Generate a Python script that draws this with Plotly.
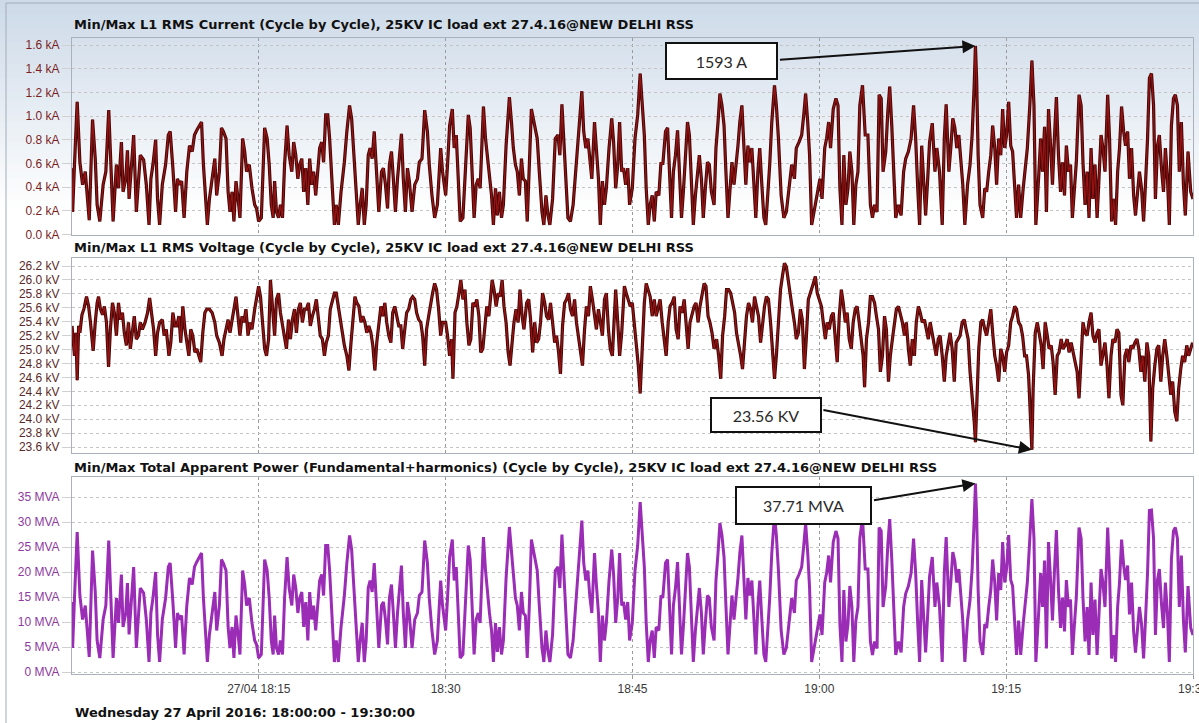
import pandas as pd
import plotly.graph_objects as go

START = pd.Timestamp("2016-04-27 18:00:00")

# Sample instants (seconds after 18:00:00) shared by the current and apparent power records
ip_seconds = [
    0, 3, 12, 25, 38, 51, 64, 73, 83, 99,
    112, 121, 134, 150, 163, 177, 188, 198, 214, 224,
    238, 246, 259, 267, 275, 284, 297, 310, 320, 329,
    345, 358, 371, 380, 390, 403, 412, 422, 435, 451,
    464, 473, 486, 499, 508, 518, 528, 540, 553, 566,
    579, 590, 601, 614, 624, 633, 643, 652, 662, 675,
    688, 697, 710, 720, 729, 742, 752, 761, 771, 780,
    790, 803, 809, 822, 832, 841, 854, 867, 880, 889,
    899, 912, 928, 940, 950, 960, 969, 976, 985, 995,
    1004, 1014, 1024, 1036, 1046, 1059, 1068, 1078, 1088, 1097,
    1107, 1116, 1126, 1136, 1145, 1155, 1164, 1174, 1184, 1193,
    1203, 1212, 1222, 1232, 1241, 1254, 1264, 1273, 1283, 1296,
    1312, 1324, 1337, 1347, 1360, 1369, 1379, 1388, 1398, 1408,
    1417, 1427, 1436, 1446, 1456, 1465, 1478, 1491, 1500, 1510,
    1520, 1529, 1539, 1548, 1558, 1568, 1577, 1587, 1596, 1606,
    1616, 1625, 1638, 1651, 1664, 1673, 1686, 1699, 1712, 1721,
    1734, 1747, 1760, 1776, 1785,
    1800, 1809, 1819, 1832, 1841, 1851, 1861, 1870, 1883, 1896,
    1909, 1918, 1928, 1937, 1947, 1957, 1966, 1982, 1992, 2001,
    2011, 2021, 2030, 2040, 2049, 2059, 2069, 2078, 2091, 2107,
    2117, 2126, 2136, 2145, 2155, 2165, 2174, 2184, 2193, 2203,
    2213, 2222, 2232, 2241, 2251, 2264, 2273, 2283, 2293, 2302,
    2315, 2328, 2341, 2350, 2360, 2369, 2379, 2389, 2401, 2414,
    2427, 2443, 2456, 2465, 2475, 2485, 2494, 2504, 2517, 2526,
    2536, 2545, 2555, 2565, 2574, 2587, 2600, 2609, 2619, 2629,
    2638, 2648, 2657, 2667, 2677, 2686, 2699, 2712, 2725, 2737,
    2747, 2757, 2766, 2776, 2785, 2795, 2805, 2814, 2827, 2837,
    2846, 2859, 2869, 2878, 2888, 2897, 2907, 2917, 2926, 2936,
    2945, 2955, 2965, 2974, 2984, 2993, 3003, 3013, 3022, 3032,
    3041, 3051, 3061, 3070, 3080, 3093, 3102, 3112, 3121, 3131,
    3141, 3150, 3160, 3169, 3179, 3189, 3198, 3208, 3217, 3227,
    3237, 3246, 3256, 3265, 3275, 3285, 3294, 3304, 3313, 3323,
    3333, 3342, 3352, 3361, 3371, 3384, 3393, 3403, 3416, 3429,
    3441, 3454, 3467, 3480, 3489, 3502, 3515, 3525, 3534, 3544,
    3553, 3563,
    3594, 3603, 3613, 3626, 3635, 3645, 3654, 3667, 3680, 3690,
    3699, 3709, 3718, 3728, 3738, 3747, 3757, 3766, 3776, 3786,
    3795, 3808, 3821, 3834, 3846, 3856, 3866, 3878, 3888, 3898,
    3907, 3920, 3930, 3939, 3949, 3958, 3968, 3981, 3994, 4006,
    4016, 4029, 4042, 4054, 4064, 4074, 4083, 4093, 4102, 4112,
    4122, 4131, 4144, 4157, 4166, 4179, 4192, 4202, 4211, 4224,
    4234, 4243, 4253, 4262, 4272, 4282, 4291, 4301, 4314, 4326,
    4336, 4346, 4352, 4358, 4365, 4374, 4387, 4397, 4406, 4416,
    4426, 4435, 4445, 4454, 4464, 4474, 4483, 4493, 4502, 4512,
    4522, 4531, 4541, 4550, 4560, 4570, 4582, 4592, 4602, 4614,
    4624, 4634, 4643, 4656, 4666, 4675, 4685, 4694, 4704, 4714,
    4723, 4733, 4742, 4752, 4762, 4771, 4781, 4790, 4800, 4810,
    4819, 4829, 4838, 4851, 4861, 4870, 4880, 4890, 4899, 4909,
    4918, 4928, 4938, 4947, 4957, 4966, 4976, 4989, 4998, 5008,
    5018, 5027, 5037, 5046, 5056, 5066, 5075, 5085, 5094, 5104,
    5114, 5123, 5133, 5142, 5152, 5162, 5171, 5181, 5190, 5200,
    5210, 5219, 5229, 5238, 5248, 5258, 5267, 5277, 5286, 5296,
    5306, 5315, 5325, 5334, 5344, 5354, 5363, 5376, 5389, 5400,
]

# L1 RMS current, kA
current_ka = [
    0.56, 0.19, 0.59, 1.12, 0.61, 0.42, 0.53, 0.30, 0.12, 0.97,
    0.64, 0.25, 0.11, 0.42, 0.53, 1.05, 0.59, 0.11, 0.59, 0.39,
    0.78, 0.36, 0.47, 0.71, 0.30, 0.53, 0.84, 0.19, 0.47, 0.67,
    0.63, 0.42, 0.08, 0.47, 0.59, 0.80, 0.30, 0.08, 0.42, 0.59,
    0.84, 0.87, 0.56, 0.19, 0.47, 0.42, 0.45, 0.14, 0.53, 0.75,
    0.70, 0.84, 0.88, 0.92, 0.95, 0.59, 0.30, 0.08, 0.30, 0.47,
    0.64, 0.33, 0.53, 0.90, 0.87, 0.81, 0.36, 0.19, 0.36, 0.11,
    0.45, 0.25, 0.14, 0.81, 0.70, 0.53, 0.59, 0.39, 0.25, 0.22,
    0.11, 0.14, 0.90, 0.81, 0.59, 0.25, 0.14, 0.45, 0.19, 0.14,
    0.25, 0.14, 0.59, 0.92, 0.67, 0.53, 0.78, 0.67, 0.47, 0.59,
    0.64, 0.36, 0.56, 0.25, 0.64, 0.42, 0.53, 0.33, 0.53, 0.73,
    0.78, 0.61, 1.01, 1.01, 0.81, 0.39, 0.08, 0.25, 0.08, 0.36,
    0.61, 0.87, 1.09, 0.98, 0.64, 0.39, 0.08, 0.25, 0.39, 0.08,
    0.25, 0.67, 0.73, 0.64, 0.87, 0.59, 0.19, 0.53, 0.56, 0.42,
    0.22, 0.59, 0.70, 0.47, 0.19, 0.47, 0.64, 0.85, 0.47, 0.19,
    0.56, 0.45, 0.19, 0.42, 0.47, 0.61, 0.64, 1.05, 0.87, 0.59,
    0.33, 0.14, 0.25, 0.73, 0.53,
    0.33, 0.59, 0.92, 1.06, 0.73, 0.84, 0.39, 0.11, 0.14, 0.53,
    1.01, 0.90, 0.47, 0.14, 0.42, 0.47, 0.39, 1.08, 0.81, 0.64,
    0.47, 0.33, 0.08, 0.39, 0.16, 0.36, 0.14, 0.25, 0.75, 1.16,
    0.95, 0.73, 0.59, 0.53, 0.33, 0.64, 0.47, 0.45, 0.11, 0.53,
    1.06, 0.98, 0.90, 0.81, 0.53, 0.19, 0.08, 0.33, 0.16, 0.08,
    0.30, 0.81, 0.84, 0.67, 1.10, 0.73, 0.47, 0.14, 0.11, 0.25,
    0.53, 0.95, 1.21, 0.87, 0.73, 0.81, 0.61, 0.47, 0.95, 0.70,
    0.47, 0.08, 0.45, 0.25, 0.39, 0.73, 0.98, 0.78, 0.39, 0.59,
    0.95, 0.53, 0.56, 0.42, 0.56, 0.25, 0.39, 0.81, 1.01, 1.36,
    1.09, 0.84, 0.39, 0.08, 0.25, 0.33, 0.11, 0.36, 0.33, 0.61,
    0.59, 0.87, 0.90, 0.47, 0.14, 0.53, 0.67, 0.88, 0.47, 0.14,
    0.36, 0.67, 0.95, 0.84, 0.47, 0.08, 0.33, 0.53, 0.67, 0.47,
    0.14, 0.39, 0.61, 0.59, 0.36, 0.25, 0.73, 0.95, 1.19, 1.09,
    0.92, 0.53, 0.14, 0.36, 0.61, 0.42, 0.56, 0.75, 0.95, 1.09,
    0.73, 0.42, 0.75, 0.61, 0.73, 0.42, 0.14, 0.53, 0.73, 0.42,
    0.14, 0.08, 0.33, 0.59, 0.95, 1.26, 1.09, 0.81, 0.33, 0.14,
    0.19, 0.39, 0.59, 0.47, 0.73, 0.78, 0.84, 1.01, 1.19, 0.95,
    0.67, 0.08,
    0.39, 0.47, 0.30, 0.73, 0.81, 0.95, 0.73, 1.06, 1.15, 1.09,
    0.39, 0.08, 0.67, 0.25, 0.39, 0.70, 0.53, 0.08, 0.42, 0.53,
    1.09, 1.26, 0.84, 0.84, 0.25, 0.14, 0.25, 0.19, 1.18, 1.15,
    0.53, 0.70, 1.04, 1.25, 0.92, 0.47, 0.14, 0.25, 0.16, 0.53,
    0.64, 0.70, 0.81, 1.09, 0.81, 0.39, 0.08, 0.75, 0.42, 0.16,
    0.47, 0.78, 0.94, 0.53, 0.73, 0.53, 0.08, 0.81, 1.10, 0.53,
    0.75, 0.98, 0.90, 0.73, 0.84, 0.64, 0.42, 0.08, 0.42, 0.59,
    0.84, 1.26, 1.593, 1.29, 0.67, 0.25, 0.14, 0.39, 0.36, 0.53,
    0.67, 0.92, 0.73, 0.42, 0.81, 0.67, 1.06, 0.73, 0.84, 1.12,
    0.75, 0.70, 0.45, 0.14, 0.42, 0.14, 0.39, 0.59, 0.73, 1.09,
    1.47, 1.09, 0.08, 0.47, 0.81, 0.53, 0.91, 0.19, 1.06, 0.75,
    0.42, 0.84, 1.16, 0.67, 0.36, 0.61, 0.33, 0.75, 0.53, 0.59,
    0.14, 0.39, 0.61, 1.18, 1.09, 0.61, 0.25, 0.53, 0.14, 0.73,
    0.30, 0.59, 0.14, 0.47, 0.84, 0.73, 0.53, 1.18, 0.81, 0.11,
    0.30, 0.08, 0.53, 0.73, 1.08, 0.87, 0.75, 0.87, 0.47, 0.73,
    0.33, 0.16, 0.33, 0.53, 0.39, 0.11, 0.42, 0.81, 1.32, 1.36,
    1.09, 0.30, 0.75, 0.84, 0.56, 0.36, 0.73, 0.47, 0.08, 0.92,
    1.15, 1.18, 1.09, 0.53, 0.95, 0.42, 0.16, 0.70, 0.36, 0.30,
]

# Total apparent power (fundamental + harmonics), MVA
power_mva = [
    14.0, 4.8, 14.8, 28.0, 15.3, 10.5, 13.3, 7.5, 3.0, 24.3,
    16.0, 6.3, 2.8, 10.5, 13.3, 26.3, 14.8, 2.8, 14.8, 9.8,
    19.5, 9.0, 11.8, 17.8, 7.5, 13.3, 21.0, 4.8, 11.8, 16.8,
    15.8, 10.5, 2.0, 11.8, 14.8, 20.0, 7.5, 2.0, 10.5, 14.8,
    21.0, 21.8, 14.0, 4.8, 11.8, 10.5, 11.3, 3.5, 13.3, 18.8,
    17.5, 21.0, 22.0, 23.0, 23.8, 14.8, 7.5, 2.0, 7.5, 11.8,
    16.0, 8.3, 13.3, 22.5, 21.8, 20.3, 9.0, 4.8, 9.0, 2.8,
    11.3, 6.3, 3.5, 20.3, 17.5, 13.3, 14.8, 9.8, 6.3, 5.5,
    2.8, 3.5, 22.5, 20.3, 14.8, 6.3, 3.5, 11.3, 4.8, 3.5,
    6.3, 3.5, 14.8, 23.0, 16.8, 13.3, 19.5, 16.8, 11.8, 14.8,
    16.0, 9.0, 14.0, 6.3, 16.0, 10.5, 13.3, 8.3, 13.3, 18.3,
    19.5, 15.3, 25.3, 25.3, 20.3, 9.8, 2.0, 6.3, 2.0, 9.0,
    15.3, 21.8, 27.3, 24.5, 16.0, 9.8, 2.0, 6.3, 9.8, 2.0,
    6.3, 16.8, 18.3, 16.0, 21.8, 14.8, 4.8, 13.3, 14.0, 10.5,
    5.5, 14.8, 17.5, 11.8, 4.8, 11.8, 16.0, 21.3, 11.8, 4.8,
    14.0, 11.3, 4.8, 10.5, 11.8, 15.3, 16.0, 26.3, 21.8, 14.8,
    8.3, 3.5, 6.3, 18.3, 13.3,
    8.3, 14.8, 23.0, 26.5, 18.3, 21.0, 9.8, 2.8, 3.5, 13.3,
    25.3, 22.5, 11.8, 3.5, 10.5, 11.8, 9.8, 27.0, 20.3, 16.0,
    11.8, 8.3, 2.0, 9.8, 4.0, 9.0, 3.5, 6.3, 18.8, 29.0,
    23.8, 18.3, 14.8, 13.3, 8.3, 16.0, 11.8, 11.3, 2.8, 13.3,
    26.5, 24.5, 22.5, 20.3, 13.3, 4.8, 2.0, 8.3, 4.0, 2.0,
    7.5, 20.3, 21.0, 16.8, 27.5, 18.3, 11.8, 3.5, 2.8, 6.3,
    13.3, 23.8, 30.3, 21.8, 18.3, 20.3, 15.3, 11.8, 23.8, 17.5,
    11.8, 2.0, 11.3, 6.3, 9.8, 18.3, 24.5, 19.5, 9.8, 14.8,
    23.8, 13.3, 14.0, 10.5, 14.0, 6.3, 9.8, 20.3, 25.3, 34.0,
    27.3, 21.0, 9.8, 2.0, 6.3, 8.3, 2.8, 9.0, 8.3, 15.3,
    14.8, 21.8, 22.5, 11.8, 3.5, 13.3, 16.8, 22.0, 11.8, 3.5,
    9.0, 16.8, 23.8, 21.0, 11.8, 2.0, 8.3, 13.3, 16.8, 11.8,
    3.5, 9.8, 15.3, 14.8, 9.0, 6.3, 18.3, 23.8, 29.8, 27.3,
    23.0, 13.3, 3.5, 9.0, 15.3, 10.5, 14.0, 18.8, 23.8, 27.3,
    18.3, 10.5, 18.8, 15.3, 18.3, 10.5, 3.5, 13.3, 18.3, 10.5,
    3.5, 2.0, 8.3, 14.8, 23.8, 31.5, 27.3, 20.3, 8.3, 3.5,
    4.8, 9.8, 14.8, 11.8, 18.3, 19.5, 21.0, 25.3, 29.8, 23.8,
    16.8, 2.0,
    9.6, 11.5, 7.4, 17.9, 19.8, 23.3, 17.9, 26.0, 28.2, 26.7,
    9.6, 2.0, 16.4, 6.1, 9.6, 17.2, 13.0, 2.0, 10.3, 13.0,
    26.7, 30.9, 20.6, 20.6, 6.1, 3.4, 6.1, 4.7, 28.9, 28.2,
    13.0, 17.2, 25.5, 30.6, 22.5, 11.5, 3.4, 6.1, 3.9, 13.0,
    15.7, 17.2, 19.8, 26.7, 19.8, 9.6, 2.0, 18.4, 10.3, 3.9,
    11.5, 19.1, 23.0, 13.0, 17.9, 13.0, 2.0, 19.8, 27.0, 13.0,
    18.4, 24.0, 22.1, 17.9, 20.6, 15.7, 10.3, 2.0, 10.3, 14.5,
    20.6, 30.5, 37.71, 31.0, 16.4, 6.1, 3.4, 9.6, 8.8, 13.0,
    16.4, 22.5, 17.9, 10.3, 19.8, 16.4, 26.0, 17.9, 20.6, 27.4,
    18.4, 17.2, 11.0, 3.4, 10.3, 3.4, 9.6, 14.5, 17.9, 26.7,
    34.6, 26.7, 2.0, 11.5, 19.8, 13.0, 22.3, 4.7, 26.0, 18.4,
    10.3, 20.6, 28.4, 16.4, 8.8, 14.9, 8.1, 18.4, 13.0, 14.5,
    3.4, 9.6, 14.9, 28.9, 26.7, 14.9, 6.1, 13.0, 3.4, 17.9,
    7.4, 14.5, 3.4, 11.5, 20.6, 17.9, 13.0, 28.9, 19.8, 2.7,
    7.4, 2.0, 13.0, 17.9, 26.5, 21.3, 18.4, 21.3, 11.5, 17.9,
    8.1, 3.9, 8.1, 13.0, 9.6, 2.7, 10.3, 19.8, 32.3, 32.4,
    26.7, 7.4, 18.4, 20.6, 13.7, 8.8, 17.9, 11.5, 2.0, 22.5,
    28.2, 28.9, 26.7, 13.0, 23.3, 10.3, 3.9, 17.2, 8.8, 7.4,
]

# Sample instants (seconds after 18:00:00) of the voltage record
v_seconds = [
    0, 6, 12, 19, 25, 32, 38, 48, 57, 70,
    80, 89, 102, 112, 121, 128, 137, 147, 156, 166,
    176, 185, 195, 204, 214, 224, 233, 243, 252, 262,
    272, 281, 291, 300, 310, 320, 329, 339, 352, 364,
    374, 384, 393, 403, 412, 422, 435, 444, 454, 467,
    476, 486, 496, 505, 515, 524, 534, 544, 553, 563,
    572, 582, 592, 601, 611, 620, 630, 640, 649, 662,
    675, 688, 697, 710, 723, 732, 742, 752, 761, 771,
    780, 790, 800, 809, 819, 828, 838, 848, 857, 867,
    880, 889, 899, 908, 918, 928, 937, 947, 956, 966,
    976, 985, 995, 1004, 1014, 1024, 1033, 1043, 1052, 1062,
    1072, 1081, 1091, 1100, 1110, 1120, 1129, 1139, 1148, 1158,
    1168, 1177, 1187, 1196, 1206, 1216, 1225, 1235, 1244, 1254,
    1264, 1273, 1283, 1292, 1302, 1312, 1324, 1334, 1344, 1353,
    1363, 1372, 1382, 1392, 1401, 1411, 1420, 1430, 1440, 1449,
    1459, 1468, 1478, 1488, 1497, 1507, 1516, 1526, 1536, 1545,
    1555, 1564, 1574, 1584, 1593, 1603, 1612, 1622, 1632, 1641,
    1651, 1660, 1670, 1680, 1689, 1699, 1708, 1718, 1728, 1737,
    1747, 1756, 1766, 1776, 1785,
    1800, 1809, 1819, 1829, 1835, 1845, 1854, 1864, 1873, 1883,
    1893, 1902, 1912, 1921, 1931, 1941, 1950, 1960, 1969, 1979,
    1989, 1998, 2008, 2017, 2024, 2033, 2043, 2053, 2062, 2072,
    2081, 2091, 2101, 2110, 2120, 2129, 2139, 2149, 2158, 2168,
    2177, 2190, 2200, 2209, 2219, 2229, 2238, 2248, 2257, 2267,
    2277, 2286, 2296, 2305, 2315, 2325, 2334, 2344, 2353, 2363,
    2373, 2382, 2392, 2401, 2411, 2421, 2430, 2440, 2449, 2459,
    2469, 2478, 2488, 2497, 2507, 2517, 2526, 2536, 2545, 2555,
    2565, 2574, 2584, 2593, 2603, 2613, 2619, 2629, 2638, 2648,
    2661, 2670, 2680, 2689, 2699, 2709, 2718, 2728, 2737, 2747,
    2757, 2766, 2776, 2785, 2795, 2805, 2814, 2824, 2833, 2843,
    2853, 2862, 2872, 2881, 2891, 2901, 2910, 2920, 2929, 2939,
    2949, 2958, 2968, 2977, 2987, 2997, 3006, 3016, 3025, 3035,
    3045, 3054, 3064, 3073, 3083, 3093, 3105, 3115, 3125, 3134,
    3144, 3153, 3163, 3173, 3182, 3192, 3201, 3211, 3221, 3230,
    3240, 3249, 3259, 3269, 3278, 3288, 3297, 3307, 3317, 3326,
    3336, 3345, 3355, 3365, 3374, 3384, 3393, 3403, 3413, 3422,
    3432, 3441, 3451, 3461, 3470, 3480, 3489, 3499, 3509, 3518,
    3528, 3537, 3547,
    3571, 3581, 3590, 3600, 3610, 3619, 3629, 3638, 3648, 3658,
    3667, 3677, 3686, 3696, 3706, 3715, 3725, 3734, 3744, 3754,
    3763, 3773, 3782, 3792, 3802, 3811, 3818, 3827, 3837, 3846,
    3856, 3866, 3875, 3885, 3894, 3904, 3914, 3923, 3933, 3942,
    3952, 3962, 3971, 3981, 3990, 4000, 4010, 4019, 4029, 4038,
    4048, 4058, 4067, 4077, 4086, 4096, 4106, 4115, 4125, 4134,
    4144, 4154, 4163, 4173, 4182, 4192, 4202, 4211, 4221, 4230,
    4240, 4250, 4259, 4269, 4278, 4288, 4298, 4307, 4317, 4326,
    4336, 4346, 4352, 4358, 4368, 4378, 4387, 4397, 4406, 4416,
    4426, 4435, 4445, 4454, 4464, 4474, 4483, 4493, 4502, 4512,
    4522, 4531, 4541, 4550, 4560, 4570, 4579, 4589, 4598, 4608,
    4624, 4630, 4640, 4650, 4659, 4669, 4678, 4688, 4698, 4707,
    4717, 4726, 4736, 4746, 4755, 4765, 4774, 4784, 4794, 4803,
    4813, 4822, 4832, 4842, 4851, 4861, 4870, 4880, 4890, 4899,
    4909, 4918, 4928, 4938, 4947, 4957, 4966, 4976, 4986, 4995,
    5005, 5014, 5024, 5034, 5043, 5053, 5062, 5072, 5082, 5091,
    5101, 5110, 5120, 5130, 5139, 5149, 5158, 5168, 5178, 5187,
    5197, 5206, 5216, 5226, 5235, 5245, 5254, 5264, 5274, 5283,
    5293, 5302, 5312, 5322, 5331, 5341, 5350, 5360, 5370, 5379,
    5389, 5398,
]

# L1 RMS voltage, kV
voltage_kv = [
    25.34, 25.10, 24.91, 25.24, 24.56, 25.34, 25.24, 25.50, 25.58, 25.76,
    25.62, 25.39, 24.98, 25.39, 25.67, 25.76, 25.58, 25.50, 25.62, 25.39,
    24.75, 25.29, 25.67, 25.53, 25.20, 25.67, 25.43, 25.53, 25.24, 25.06,
    25.39, 25.01, 25.29, 25.48, 25.15, 25.20, 25.39, 25.29, 25.39, 25.53,
    25.74, 25.53, 25.29, 24.91, 25.24, 25.39, 25.43, 25.20, 25.29, 24.91,
    25.10, 25.53, 25.34, 25.34, 25.48, 25.10, 25.62, 25.29, 25.10, 24.91,
    25.29, 25.20, 24.96, 25.01, 24.91, 24.82, 25.24, 25.53, 25.58, 25.58,
    25.53, 25.39, 25.20, 25.10, 24.91, 25.15, 25.29, 25.43, 25.24, 25.39,
    25.58, 25.76, 25.48, 25.20, 25.48, 25.39, 25.58, 25.20, 25.39, 25.29,
    25.58, 25.72, 25.91, 25.76, 25.39, 25.01, 24.91, 25.15, 26.00, 25.58,
    25.20, 25.72, 25.81, 25.53, 25.34, 25.15, 25.01, 25.43, 25.15, 25.43,
    25.58, 25.24, 25.58, 25.67, 25.39, 25.58, 25.58, 25.67, 25.34, 25.48,
    25.58, 25.72, 25.39, 25.20, 25.15, 24.91, 25.10, 25.20, 25.58, 25.72,
    25.81, 25.81, 25.62, 25.48, 25.29, 25.06, 24.91, 24.70, 25.10, 25.39,
    25.76, 25.67, 25.62, 25.39, 25.48, 25.39, 25.24, 25.34, 25.24, 25.06,
    24.70, 25.10, 25.39, 25.62, 25.48, 25.67, 25.39, 25.20, 25.10, 25.53,
    25.62, 25.48, 25.34, 25.34, 25.01, 25.29, 25.53, 25.58, 25.72, 25.76,
    25.72, 25.53, 25.43, 25.39, 25.20, 24.77, 25.29, 25.48, 25.67, 25.81,
    25.95, 25.86, 25.58, 25.20, 25.39,
    25.39, 25.20, 24.91, 25.15, 24.58, 25.53, 25.62, 25.81, 26.00, 25.72,
    25.86, 25.39, 25.06, 25.15, 25.67, 25.62, 25.72, 25.48, 24.96, 25.01,
    25.39, 25.62, 25.48, 25.72, 26.00, 25.86, 25.62, 25.81, 25.76, 26.00,
    25.62, 25.39, 24.96, 24.77, 25.10, 25.39, 25.58, 25.39, 25.86, 25.48,
    25.29, 25.67, 25.72, 25.43, 24.96, 25.39, 25.10, 25.15, 25.39, 25.81,
    25.67, 25.48, 25.43, 25.67, 25.39, 25.10, 25.20, 24.96, 24.65, 25.34,
    25.67, 25.72, 25.81, 25.58, 25.48, 25.72, 25.39, 25.15, 24.96, 24.77,
    25.29, 25.62, 25.48, 25.91, 25.72, 25.48, 25.29, 25.58, 25.39, 25.20,
    25.72, 25.81, 25.29, 25.01, 24.91, 25.39, 25.86, 25.39, 24.91, 25.24,
    25.91, 25.81, 25.72, 25.62, 25.67, 25.39, 25.10, 24.77, 24.37, 25.01,
    25.67, 25.95, 25.86, 25.76, 25.48, 25.72, 25.48, 25.62, 25.72, 25.39,
    25.15, 24.91, 25.39, 25.62, 25.67, 25.76, 25.29, 25.15, 25.62, 25.53,
    25.72, 25.39, 25.01, 25.39, 25.53, 25.62, 25.67, 25.39, 25.62, 25.76,
    25.95, 25.91, 25.48, 25.39, 25.24, 25.01, 25.15, 24.91, 24.58, 25.20,
    25.48, 25.86, 25.86, 25.81, 25.67, 25.53, 25.24, 25.10, 24.91, 24.72,
    25.15, 25.48, 25.67, 25.58, 25.39, 25.76, 25.62, 25.48, 25.10, 25.39,
    25.62, 25.76, 25.72, 25.39, 24.91, 24.58, 24.91, 25.39, 25.86, 26.05,
    26.24, 26.19, 25.95, 25.76, 25.58, 25.39, 25.15, 25.24, 25.58, 25.43,
    24.72, 25.15, 25.72,
    25.95, 26.05, 25.81, 25.72, 25.62, 25.39, 25.15, 25.39, 25.29, 25.48,
    25.53, 25.15, 24.82, 25.48, 25.86, 25.67, 25.39, 25.53, 25.15, 25.01,
    25.39, 25.58, 25.62, 25.39, 25.15, 24.91, 24.46, 25.15, 25.39, 25.76,
    25.76, 25.67, 25.48, 25.29, 24.68, 24.91, 25.48, 25.29, 24.54, 24.91,
    25.15, 25.39, 25.58, 25.62, 25.53, 25.39, 25.20, 25.39, 25.01, 24.77,
    25.15, 24.91, 25.39, 25.62, 25.53, 25.39, 25.43, 25.29, 25.15, 25.39,
    25.20, 25.01, 24.91, 25.15, 25.20, 24.91, 24.54, 24.91, 25.10, 25.24,
    25.01, 24.54, 25.10, 25.15, 25.20, 25.39, 25.43, 25.29, 25.15, 24.68,
    24.35, 23.97, 23.67, 24.20, 25.01, 25.39, 25.43, 25.29, 25.20, 25.39,
    25.58, 25.24, 24.91, 24.77, 24.54, 25.01, 24.91, 24.68, 24.96, 25.06,
    25.39, 25.48, 25.62, 25.58, 25.39, 25.34, 25.20, 24.91, 24.91, 24.63,
    23.56, 24.44, 25.24, 25.39, 25.20, 25.06, 24.72, 25.39, 25.20, 25.01,
    25.06, 24.82, 24.35, 24.91, 24.96, 25.15, 25.01, 25.06, 25.15, 24.96,
    25.10, 24.96, 24.82, 24.68, 24.30, 24.87, 25.39, 25.24, 25.20, 25.39,
    25.53, 25.20, 25.10, 25.24, 25.29, 24.77, 24.96, 25.10, 24.77, 24.30,
    24.91, 25.15, 25.10, 25.29, 25.24, 24.35, 24.20, 24.91, 25.01, 24.82,
    25.06, 25.01, 25.10, 25.15, 25.01, 24.68, 24.91, 24.54, 25.10, 24.91,
    23.68, 24.44, 24.77, 25.01, 25.06, 24.54, 24.91, 25.15, 24.91, 24.68,
    24.35, 24.54, 24.11, 23.97, 24.44, 24.72, 24.91, 24.82, 25.06, 24.91,
    25.01, 25.10,
]

# Axis ticks
time_ticks = ["18:15:00", "18:30:00", "18:45:00", "19:00:00", "19:15:00", "19:30:00"]
time_tick_text = ["27/04 18:15", "18:30", "18:45", "19:00", "19:15", "19:30"]
current_ticks = [0.0, 0.2, 0.4, 0.6, 0.8, 1.0, 1.2, 1.4, 1.6]
voltage_ticks = [23.6, 23.8, 24.0, 24.2, 24.4, 24.6, 24.8, 25.0, 25.2, 25.4,
                 25.6, 25.8, 26.0, 26.2]
power_ticks = [0, 5, 10, 15, 20, 25, 30, 35]

# Annotated extremes
peak_current_s, peak_current_ka, peak_current_label = 4352, 1.593, "1593 A"
min_voltage_s, min_voltage_kv, min_voltage_label = 4624, 23.56, "23.56 KV"
peak_power_s, peak_power_mva, peak_power_label = 4352, 37.71, "37.71 MVA"

W, H = 1199, 723


def stamp(seconds):
    return START + pd.to_timedelta(seconds, unit="s")


def fx(px):
    return px / W


def fy(px):
    return 1 - px / H


ip_time = [stamp(s) for s in ip_seconds]
v_time = [stamp(s) for s in v_seconds]

RED_EDGE, RED_CORE = "#450707", "#951313"
PURPLE = "#9a2cb6"

fig = go.Figure()
# Maroon traces are drawn as a dark edge with a brighter core
for xa, ya, xs, ys in (("x", "y", ip_time, current_ka), ("x2", "y2", v_time, voltage_kv)):
    fig.add_trace(go.Scatter(x=xs, y=ys, mode="lines", xaxis=xa, yaxis=ya,
                             line=dict(color=RED_EDGE, width=3.2), hoverinfo="skip"))
    fig.add_trace(go.Scatter(x=xs, y=ys, mode="lines", xaxis=xa, yaxis=ya,
                             line=dict(color=RED_CORE, width=1.3), hoverinfo="skip"))
fig.add_trace(go.Scatter(x=ip_time, y=power_mva, mode="lines", xaxis="x3", yaxis="y3",
                         line=dict(color=PURPLE, width=3.0), hoverinfo="skip"))

x_range = [START, stamp(5400)]
x_domain = [fx(72), fx(1193)]
grid_x = dict(showgrid=True, gridcolor="#9a9a9a", griddash="dot", gridwidth=1,
              showline=True, mirror=True, linecolor="#a9b2bc", linewidth=1,
              zeroline=False, range=x_range, domain=x_domain, type="date",
              automargin=False,
              tickvals=[f"2016-04-27 {t}" for t in time_ticks], ticktext=time_tick_text)

axis_font = dict(family="Liberation Sans, Arial, sans-serif", size=12)
grid_y = dict(showgrid=True, gridcolor="#c4c4c4", griddash="dot", gridwidth=1,
              showline=True, mirror=True, linecolor="#a9b2bc", linewidth=1,
              zeroline=False, ticks="outside", ticklen=9, tickcolor="#d0d0d0",
              automargin=False)

fig.update_layout(
    width=W, height=H,
    margin=dict(l=0, r=0, t=0, b=0, autoexpand=False),
    paper_bgcolor="#ffffff", plot_bgcolor="rgba(0,0,0,0)",
    showlegend=False,
    xaxis=dict(grid_x, anchor="y", showticklabels=False),
    xaxis2=dict(grid_x, anchor="y2", showticklabels=False, matches="x"),
    xaxis3=dict(grid_x, anchor="y3", showticklabels=True, matches="x",
                ticks="outside", ticklen=4, tickcolor="#9a9a9a",
                ticklabeloverflow="allow",
                tickfont=dict(axis_font, color="#3a3a3a")),
    yaxis=dict(grid_y, domain=[fy(235), fy(38)], range=[-0.005, 1.66], anchor="x",
               tickvals=current_ticks, ticktext=[f"{v:.1f} kA" for v in current_ticks],
               tickfont=dict(axis_font, color="#7a1f1f")),
    yaxis2=dict(grid_y, domain=[fy(453), fy(258)], range=[23.514, 26.315], anchor="x2",
                tickvals=voltage_ticks, ticktext=[f"{v:.1f} kV" for v in voltage_ticks],
                tickfont=dict(axis_font, color="#5a2a2a")),
    yaxis3=dict(grid_y, domain=[fy(674), fy(477)], range=[-0.4, 39.0], anchor="x3",
                tickvals=power_ticks, ticktext=[f"{v} MVA" for v in power_ticks],
                tickfont=dict(axis_font, color="#8e3a9e")),
)

# Soft blue header wash fading into white
shapes = []
bands = 30
top_rgb, bottom_rgb = (205, 218, 232), (255, 255, 255)
for i in range(bands):
    f = i / (bands - 1)
    c = tuple(round(a + (b - a) * f) for a, b in zip(top_rgb, bottom_rgb))
    y0 = 215 * i / bands
    y1 = 215 * (i + 1) / bands + 1
    shapes.append(dict(type="rect", xref="paper", yref="paper", layer="below",
                       x0=0, x1=1, y0=fy(y1), y1=fy(y0), line=dict(width=0),
                       fillcolor=f"rgb{c}"))
# Outer frame
shapes.append(dict(type="rect", xref="paper", yref="paper", layer="above",
                   x0=fx(6), x1=fx(1205), y0=fy(730), y1=fy(3),
                   line=dict(color="#a3adb8", width=1), fillcolor="rgba(0,0,0,0)"))
fig.update_layout(shapes=shapes)

title_font = dict(family="DejaVu Sans, Verdana, sans-serif", size=13, color="#111111")
annotations = []
panel_titles = [
    ("Min/Max L1 RMS Current (Cycle by Cycle), 25KV IC load ext 27.4.16@NEW DELHI RSS", 25),
    ("Min/Max L1 RMS Voltage (Cycle by Cycle), 25KV IC load ext 27.4.16@NEW DELHI RSS", 247),
    ("Min/Max Total Apparent Power (Fundamental+harmonics) (Cycle by Cycle), "
     "25KV IC load ext 27.4.16@NEW DELHI RSS", 467),
]
for text, ypx in panel_titles:
    annotations.append(dict(text=f"<b>{text}</b>", xref="paper", yref="paper",
                            x=fx(72), y=fy(ypx), xanchor="left", yanchor="middle",
                            showarrow=False, font=title_font))

annotations.append(dict(text="<b>Wednesday 27 April 2016: 18:00:00 - 19:30:00</b>",
                        xref="paper", yref="paper", x=fx(73), y=fy(712),
                        xanchor="left", yanchor="middle", showarrow=False,
                        font=title_font))

box_font = dict(family="Lato, Open Sans, sans-serif", size=16, color="#2a2a2a")
boxes = [
    (peak_current_label, 665, 42, 113, 38),
    (min_voltage_label, 710, 397, 112, 36),
    (peak_power_label, 735, 486, 137, 39),
]
for text, left, top, w, h in boxes:
    annotations.append(dict(text=text, xref="paper", yref="paper",
                            x=fx(left), y=fy(top), xanchor="left", yanchor="top",
                            width=w - 4, height=h - 4, showarrow=False,
                            bgcolor="#ffffff", bordercolor="#111111", borderwidth=2,
                            borderpad=0, font=box_font, align="center", valign="middle"))

arrow_style = dict(text="", showarrow=True, arrowhead=2, arrowsize=1.3,
                   arrowwidth=2, arrowcolor="#111111", standoff=0, startstandoff=0)
annotations.append(dict(arrow_style, xref="x", yref="y", x=stamp(peak_current_s),
                        y=peak_current_ka, ax=-197, ay=14))
annotations.append(dict(arrow_style, xref="x2", yref="y2", x=stamp(min_voltage_s),
                        y=min_voltage_kv, ax=-210, ay=-40))
annotations.append(dict(arrow_style, xref="x3", yref="y3", x=stamp(peak_power_s),
                        y=peak_power_mva, ax=-103, ay=17))

fig.update_layout(annotations=annotations)

fig.write_html("out.html")
